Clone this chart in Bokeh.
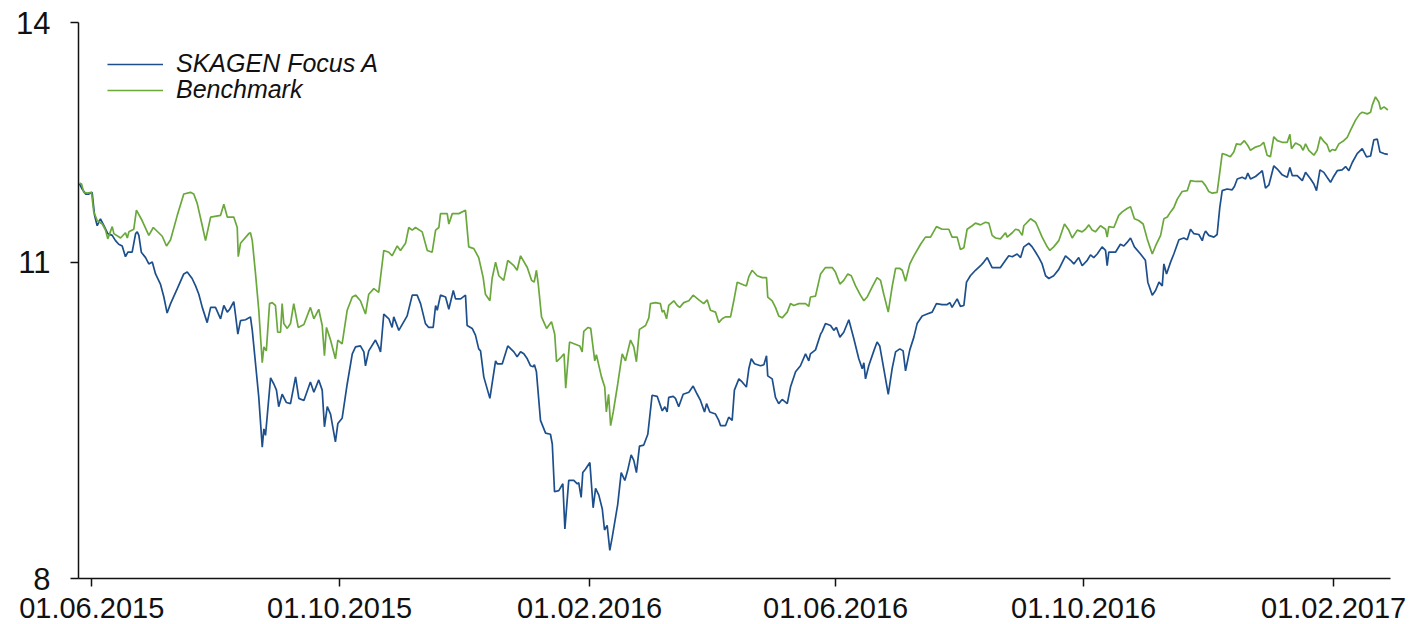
import pandas as pd
from bokeh.plotting import figure
from bokeh.models import (FixedTicker, DatetimeTickFormatter, Range1d, Legend,
                          LegendItem, BasicTickFormatter, ColumnDataSource)
from bokeh.embed import file_html
from bokeh.resources import INLINE

START = "2015-05-26"
END_DAY = 645.0
x_tick_dates = ["2015-06-01", "2015-10-01", "2016-02-01", "2016-06-01", "2016-10-01", "2017-02-01"]
y_ticks = [8, 11, 14]
series_names = ["SKAGEN Focus A", "Benchmark"]

focus_days = [0, 1.3, 3.0, 4.6, 6.2, 7.4, 8.7, 10.3, 12.0, 13.9, 16.1, 17.7, 19.3, 21.0, 22.6, 23.8, 25.9, 27.6, 28.4, 29.2,
    30.4, 32.5, 34.1, 35.8, 36.3, 37.4, 39.8, 41.5, 43.1, 44.8, 48.1, 51.3, 53.0, 55.4, 57.1, 58.7, 60.4, 62.8, 64.5, 66.9,
    69.4, 71.0, 72.7, 73.9, 75.9, 76.7, 77.9, 79.2, 81.7, 84.1, 85.0, 86.6, 88.2, 89.9, 90.7, 91.5, 92.3, 94.0, 95.6, 96.9,
    98.0, 99.7, 101.8, 103.8, 106.3, 107.9, 110.4, 113.6, 115.3, 117.7, 119.4, 120.5, 121.9, 123.5, 125.9, 127.1, 129.2, 131.7, 134.2, 135.8,
    138.2, 139.9, 140.7, 142.3, 145.6, 147.2, 148.1, 149.7, 152.2, 153.8, 154.6, 157.1, 161.2, 163.7, 166.1, 167.8, 170.2, 171.8, 174.0, 175.2,
    176.0, 177.6, 180.1, 181.7, 183.9, 185.0, 187.5, 189.9, 190.7, 193.2, 194.8, 196.4, 197.3, 198.9, 201.9, 203.5, 204.7, 205.5, 208.0, 210.7,
    213.7, 215.3, 217.0, 218.6, 220.3, 221.9, 223.2, 223.8, 224.8, 226.8, 229.3, 231.7, 232.6, 233.7, 235.8, 237.8, 238.8, 240.7, 243.2, 244.9,
    245.6, 246.8, 247.6, 248.9, 251.1, 252.7, 253.9, 255.5, 257.2, 258.3, 259.6, 260.9, 262.1, 264.8, 266.5, 268.3, 269.7, 271.4, 272.7, 274.0,
    275.5, 277.6, 279.6, 281.7, 284.2, 286.7, 288.0, 289.1, 289.9, 292.1, 293.2, 294.8, 297.0, 299.8, 301.9, 303.9, 305.5, 307.5, 308.5, 310.1,
    312.9, 314.5, 315.4, 317.8, 319.4, 321.1, 322.2, 324.4, 326.0, 328.1, 329.3, 330.5, 332.1, 335.0, 336.7, 338.0, 338.6, 340.8, 342.4, 344.0,
    345.7, 348.2, 349.8, 352.3, 354.7, 357.2, 358.8, 359.6, 362.1, 364.6, 365.4, 367.0, 369.5, 371.1, 372.4, 374.1, 376.0, 378.5, 381.0, 383.4,
    385.1, 385.9, 386.7, 388.3, 390.8, 392.4, 393.7, 395.7, 397.9, 399.8, 401.5, 403.6, 405.2, 406.4, 408.5, 410.5, 412.1, 414.6, 417.0, 419.5,
    421.6, 424.4, 426.9, 428.2, 429.3, 431.8, 433.4, 435.1, 436.4, 438.3, 440.8, 443.3, 444.9, 446.6, 449.0, 450.7, 453.1, 455.6, 457.2, 458.9,
    461.3, 463.0, 464.6, 467.1, 468.7, 470.4, 472.0, 473.6, 475.3, 476.9, 479.3, 481.8, 485.1, 487.6, 489.2, 491.6, 493.3, 495.8, 497.4, 499.0,
    500.7, 503.1, 504.8, 505.6, 506.4, 509.7, 512.1, 513.8, 515.4, 517.1, 519.0, 522.0, 524.4, 525.6, 527.8, 529.4, 531.1, 532.7, 533.5, 534.8,
    536.8, 538.4, 540.9, 543.3, 545.0, 546.6, 548.2, 550.7, 552.4, 553.2, 554.0, 555.6, 558.1, 559.7, 561.0, 562.2, 564.6, 567.1, 568.2, 569.6,
    572.0, 573.7, 574.8, 576.1, 578.6, 581.0, 581.9, 583.5, 585.2, 587.6, 589.3, 591.7, 594.2, 595.5, 596.7, 599.1, 601.6, 603.2, 605.7, 607.3,
    608.6, 610.3, 612.2, 613.8, 615.5, 616.8, 618.8, 621.2, 622.9, 624.5, 626.2, 628.6, 631.1, 633.2, 635.2, 636.8, 638.5, 639.8, 641.8, 643.7]
focus_vals = [11.90, 11.84, 11.78, 11.78, 11.80, 11.53, 11.41, 11.49, 11.41, 11.32, 11.30, 11.24, 11.20, 11.18, 11.06, 11.11, 11.11, 11.32, 11.34, 11.30,
    11.11, 11.05, 10.98, 11.00, 10.96, 10.87, 10.76, 10.62, 10.45, 10.55, 10.71, 10.87, 10.89, 10.82, 10.74, 10.65, 10.51, 10.35, 10.51, 10.51,
    10.39, 10.53, 10.46, 10.49, 10.57, 10.44, 10.23, 10.37, 10.38, 10.41, 10.27, 9.93, 9.60, 9.13, 9.30, 9.24, 9.41, 9.79, 9.73, 9.67,
    9.51, 9.63, 9.55, 9.54, 9.80, 9.59, 9.57, 9.75, 9.65, 9.77, 9.67, 9.32, 9.51, 9.44, 9.18, 9.35, 9.40, 9.73, 10.03, 10.10,
    10.11, 10.05, 9.91, 10.06, 10.17, 10.10, 10.05, 10.44, 10.39, 10.30, 10.41, 10.27, 10.42, 10.64, 10.64, 10.55, 10.34, 10.30, 10.30, 10.53,
    10.48, 10.64, 10.62, 10.49, 10.69, 10.60, 10.60, 10.64, 10.32, 10.29, 10.22, 10.08, 10.06, 9.80, 9.59, 9.80, 9.96, 9.93, 9.93, 10.11,
    10.05, 10.00, 10.05, 10.03, 9.98, 9.91, 9.90, 9.92, 9.85, 9.38, 9.26, 9.25, 9.16, 8.73, 8.74, 8.80, 8.41, 8.83, 8.83, 8.80,
    8.81, 8.68, 8.90, 8.93, 8.99, 8.59, 8.76, 8.70, 8.58, 8.40, 8.44, 8.23, 8.34, 8.62, 8.90, 8.83, 8.92, 9.06, 9.01, 8.90,
    9.14, 9.15, 9.25, 9.62, 9.61, 9.47, 9.51, 9.46, 9.60, 9.61, 9.59, 9.51, 9.63, 9.65, 9.71, 9.63, 9.57, 9.46, 9.54, 9.46,
    9.44, 9.38, 9.33, 9.33, 9.41, 9.38, 9.67, 9.78, 9.75, 9.70, 9.88, 9.98, 9.93, 9.91, 9.92, 10.01, 9.81, 9.78, 9.60, 9.54,
    9.58, 9.54, 9.70, 9.85, 9.91, 10.03, 9.96, 10.03, 10.07, 10.23, 10.26, 10.34, 10.32, 10.27, 10.30, 10.20, 10.25, 10.38, 10.18, 9.98,
    9.88, 9.94, 9.78, 9.91, 10.06, 10.15, 10.11, 9.88, 9.63, 9.88, 10.05, 10.08, 10.06, 9.86, 10.07, 10.20, 10.34, 10.42, 10.44, 10.46,
    10.55, 10.54, 10.54, 10.56, 10.51, 10.60, 10.52, 10.53, 10.78, 10.85, 10.91, 10.96, 11.00, 11.05, 10.94, 10.94, 10.94, 11.02, 11.07, 11.06,
    11.09, 11.05, 11.17, 11.21, 11.17, 11.11, 11.05, 10.98, 10.85, 10.82, 10.85, 10.92, 11.07, 11.02, 10.98, 11.05, 10.96, 11.02, 11.08, 11.05,
    11.09, 11.17, 11.13, 10.96, 11.11, 11.11, 11.20, 11.18, 11.22, 11.27, 11.17, 11.09, 11.02, 10.78, 10.64, 10.69, 10.78, 10.74, 10.98, 10.87,
    11.00, 11.09, 11.25, 11.27, 11.25, 11.37, 11.32, 11.31, 11.24, 11.31, 11.35, 11.30, 11.28, 11.31, 11.62, 11.82, 11.84, 11.83, 11.87, 11.96,
    11.98, 11.96, 12.03, 11.96, 11.99, 12.04, 12.06, 11.85, 11.89, 12.12, 12.08, 12.01, 11.98, 12.10, 12.00, 12.00, 11.94, 12.04, 11.96, 11.90,
    11.82, 12.07, 12.04, 11.98, 11.92, 11.98, 12.06, 12.07, 12.11, 12.06, 12.16, 12.27, 12.33, 12.23, 12.24, 12.44, 12.45, 12.29, 12.27, 12.26]

bench_days = [0, 1.0, 2.1, 3.8, 5.9, 7.0, 8.7, 11.2, 12.8, 13.9, 16.1, 16.9, 20.2, 22.6, 23.5, 24.3, 26.7, 28.0, 30.8, 34.1,
    36.3, 40.7, 42.8, 44.8, 48.1, 51.3, 54.6, 56.2, 57.9, 60.4, 62.0, 64.5, 69.4, 71.0, 72.7, 75.9, 77.6, 78.1, 79.2, 83.3,
    84.1, 85.0, 86.6, 88.2, 89.9, 90.7, 91.9, 93.5, 94.8, 96.4, 97.5, 98.9, 99.7, 100.5, 102.2, 103.8, 105.4, 107.6, 110.4, 113.6,
    115.3, 117.7, 119.4, 120.5, 121.5, 123.5, 125.9, 127.1, 129.2, 131.7, 134.2, 135.8, 138.2, 140.7, 142.3, 144.8, 147.2, 149.7, 152.2, 153.8,
    156.3, 157.9, 160.4, 162.0, 163.7, 165.3, 168.6, 171.1, 173.5, 175.2, 176.8, 177.6, 180.9, 181.7, 183.4, 186.6, 189.9, 191.5, 194.0, 196.4,
    198.6, 199.7, 201.9, 203.0, 204.7, 206.3, 208.7, 210.7, 213.7, 215.3, 217.0, 220.3, 222.4, 223.7, 224.8, 225.7, 227.3, 229.8, 232.2, 233.8,
    234.7, 237.1, 238.4, 239.2, 241.1, 243.6, 246.1, 247.3, 248.1, 250.2, 251.5, 253.5, 254.3, 256.8, 258.4, 259.2, 260.3, 261.3, 262.6, 264.8,
    267.0, 268.6, 271.1, 272.7, 274.0, 275.5, 278.5, 280.1, 280.9, 283.4, 285.8, 286.7, 287.5, 288.8, 289.9, 292.4, 294.1, 295.3, 297.3, 299.8,
    301.9, 304.7, 307.1, 308.8, 310.4, 312.9, 314.5, 316.2, 317.8, 320.3, 321.9, 323.6, 326.8, 328.1, 329.3, 330.9, 333.4, 335.9, 338.0, 338.6,
    340.8, 342.4, 344.0, 345.7, 348.2, 349.8, 351.4, 353.9, 357.2, 358.8, 359.6, 362.1, 364.6, 367.0, 370.3, 371.9, 374.1, 376.0, 378.0, 379.7,
    381.8, 384.2, 385.9, 387.5, 390.0, 392.4, 394.1, 395.7, 397.9, 399.8, 401.5, 403.6, 404.8, 406.4, 408.5, 410.5, 413.8, 416.2, 418.7, 421.6,
    424.4, 427.7, 429.3, 431.8, 433.4, 435.1, 436.7, 439.2, 440.8, 443.3, 445.7, 447.4, 449.0, 450.7, 453.1, 455.6, 456.4, 458.9, 460.5, 462.1,
    463.8, 464.6, 467.9, 470.4, 471.2, 473.6, 476.1, 477.4, 479.3, 481.8, 484.6, 486.7, 488.4, 490.9, 493.3, 494.9, 496.6, 498.2, 499.8, 502.3,
    504.8, 505.6, 506.4, 508.9, 511.3, 513.0, 515.4, 517.1, 519.0, 521.1, 523.3, 525.3, 526.6, 527.8, 529.4, 531.9, 533.5, 535.2, 536.8, 538.4,
    540.1, 542.5, 545.0, 546.6, 549.1, 552.4, 554.0, 555.6, 557.3, 559.7, 561.0, 562.2, 564.6, 566.2, 567.9, 569.2, 571.2, 573.1, 574.8, 576.1,
    578.6, 581.0, 582.6, 584.3, 585.9, 587.6, 589.3, 591.7, 594.2, 595.5, 596.3, 598.3, 600.7, 602.0, 603.2, 604.8, 607.3, 608.9, 610.5, 612.2,
    613.8, 615.1, 616.3, 617.9, 619.6, 622.0, 623.7, 625.3, 627.8, 629.9, 631.1, 633.6, 635.2, 636.0, 637.6, 639.3, 640.1, 641.8, 643.7]
bench_vals = [11.91, 11.90, 11.80, 11.79, 11.80, 11.57, 11.47, 11.43, 11.36, 11.26, 11.40, 11.32, 11.27, 11.33, 11.27, 11.34, 11.37, 11.59, 11.47, 11.30,
    11.39, 11.29, 11.18, 11.25, 11.53, 11.78, 11.80, 11.78, 11.67, 11.41, 11.24, 11.51, 11.53, 11.66, 11.51, 11.51, 11.39, 11.06, 11.21, 11.32,
    11.33, 11.24, 10.87, 10.48, 9.94, 10.10, 10.06, 10.55, 10.56, 10.53, 10.25, 10.25, 10.55, 10.34, 10.29, 10.34, 10.55, 10.30, 10.33, 10.51,
    10.39, 10.49, 10.32, 10.01, 10.30, 10.17, 9.98, 10.17, 10.13, 10.48, 10.62, 10.64, 10.58, 10.44, 10.65, 10.71, 10.67, 11.13, 11.11, 11.07,
    11.18, 11.13, 11.21, 11.39, 11.36, 11.39, 11.34, 11.13, 11.11, 11.36, 11.39, 11.55, 11.55, 11.43, 11.55, 11.55, 11.59, 11.17, 11.15, 11.05,
    10.83, 10.65, 10.58, 10.82, 11.00, 10.85, 10.80, 11.02, 10.96, 10.91, 11.07, 10.94, 10.80, 10.78, 10.91, 10.76, 10.41, 10.29, 10.36, 10.23,
    9.95, 10.00, 10.03, 9.69, 10.15, 10.13, 10.11, 10.05, 10.26, 10.30, 10.29, 9.96, 10.02, 9.80, 9.70, 9.46, 9.63, 9.33, 9.46, 9.73,
    10.03, 9.96, 10.17, 10.10, 9.95, 10.28, 10.32, 10.40, 10.55, 10.56, 10.55, 10.46, 10.48, 10.39, 10.53, 10.58, 10.53, 10.51, 10.56, 10.58,
    10.64, 10.59, 10.55, 10.59, 10.48, 10.46, 10.35, 10.39, 10.41, 10.41, 10.58, 10.78, 10.75, 10.74, 10.84, 10.91, 10.85, 10.83, 10.83, 10.62,
    10.58, 10.51, 10.42, 10.40, 10.46, 10.55, 10.53, 10.55, 10.55, 10.52, 10.62, 10.63, 10.87, 10.94, 10.94, 10.89, 10.76, 10.80, 10.87, 10.85,
    10.74, 10.64, 10.58, 10.62, 10.73, 10.83, 10.80, 10.65, 10.46, 10.73, 10.93, 10.93, 10.91, 10.79, 10.98, 11.07, 11.20, 11.28, 11.28, 11.40,
    11.37, 11.37, 11.28, 11.28, 11.14, 11.16, 11.37, 11.41, 11.44, 11.42, 11.45, 11.44, 11.30, 11.27, 11.26, 11.33, 11.28, 11.33, 11.37, 11.36,
    11.30, 11.41, 11.49, 11.45, 11.41, 11.28, 11.17, 11.13, 11.17, 11.24, 11.43, 11.36, 11.27, 11.36, 11.34, 11.37, 11.42, 11.36, 11.34, 11.41,
    11.37, 11.28, 11.40, 11.39, 11.53, 11.57, 11.61, 11.63, 11.49, 11.47, 11.43, 11.26, 11.17, 11.09, 11.18, 11.30, 11.49, 11.51, 11.57, 11.62,
    11.72, 11.81, 11.82, 11.94, 11.93, 11.93, 11.88, 11.81, 11.79, 11.80, 12.04, 12.27, 12.25, 12.23, 12.29, 12.39, 12.38, 12.43, 12.37, 12.31,
    12.35, 12.37, 12.41, 12.25, 12.23, 12.48, 12.43, 12.41, 12.41, 12.51, 12.33, 12.40, 12.37, 12.31, 12.39, 12.31, 12.25, 12.31, 12.48, 12.42,
    12.38, 12.29, 12.32, 12.31, 12.39, 12.43, 12.47, 12.56, 12.69, 12.77, 12.79, 12.77, 12.79, 12.88, 12.99, 12.92, 12.83, 12.86, 12.82]

BLUE = "#1d4f8c"
GREEN = "#6aa83c"
FONT = "Liberation Sans"

start = pd.Timestamp(START)
focus_src = ColumnDataSource(dict(x=start + pd.to_timedelta(focus_days, unit="D"), y=focus_vals))
bench_src = ColumnDataSource(dict(x=start + pd.to_timedelta(bench_days, unit="D"), y=bench_vals))

p = figure(width=1410, height=624, x_axis_type="datetime", y_axis_type="log",
           x_range=Range1d(start - pd.Timedelta(days=0.5), start + pd.Timedelta(days=END_DAY)),
           y_range=Range1d(y_ticks[0], y_ticks[-1]),
           output_backend="svg", toolbar_location=None,
           min_border_left=78, min_border_right=20, min_border_top=22, min_border_bottom=46)

p.outline_line_color = None
p.grid.visible = False
p.background_fill_color = "white"
p.border_fill_color = "white"

r_focus = p.line("x", "y", source=focus_src, line_color=BLUE, line_width=1.7)
r_bench = p.line("x", "y", source=bench_src, line_color=GREEN, line_width=1.7)

tick_ms = [pd.Timestamp(d).value / 1e6 for d in x_tick_dates]
xa = p.xaxis[0]
xa.ticker = FixedTicker(ticks=tick_ms)
fmt = "%d.%m.%Y"
xa.formatter = DatetimeTickFormatter(milliseconds=fmt, seconds=fmt, minsec=fmt, minutes=fmt,
                                     hourmin=fmt, hours=fmt, days=fmt, months=fmt, years=fmt)
ya = p.yaxis[0]
ya.ticker = FixedTicker(ticks=y_ticks, minor_ticks=[])
ya.formatter = BasicTickFormatter()

for ax in (xa, ya):
    ax.axis_line_color = "#111111"
    ax.axis_line_width = 1.5
    ax.major_tick_line_color = "#111111"
    ax.major_tick_line_width = 1.5
    ax.major_tick_out = 8
    ax.major_tick_in = 0
    ax.minor_tick_line_color = None
    ax.major_label_text_font = FONT
    ax.major_label_text_color = "#111111"

xa.major_label_text_font_size = "29px"
xa.major_label_standoff = 11
ya.major_label_text_font_size = "31px"
ya.major_label_standoff = 20

# one single-item legend per series, placed at its own row (screen offsets from the frame's bottom-left)
legend_rows = [(r_focus, 500), (r_bench, 474)]
for (rend, vy), name in zip(legend_rows, series_names):
    lg = Legend(items=[LegendItem(label=name, renderers=[rend])], location=(29, vy))
    lg.border_line_color = None
    lg.background_fill_alpha = 0
    lg.margin = 0
    lg.padding = 0
    lg.spacing = 0
    lg.glyph_width = 56
    lg.glyph_height = 22
    lg.label_height = 22
    lg.label_standoff = 13
    lg.label_text_font = FONT
    lg.label_text_font_style = "italic"
    lg.label_text_font_size = "25px"
    lg.label_text_color = "#111111"
    p.add_layout(lg)

open("out.html", "w").write(file_html(p, INLINE))
